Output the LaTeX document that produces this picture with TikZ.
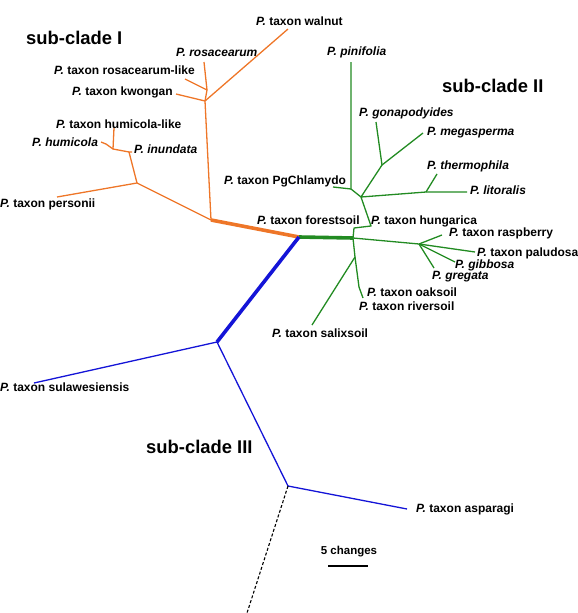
\documentclass[tikz,border=0pt]{standalone}
\usepackage{fontspec}
\setmainfont{Liberation Sans}
\definecolor{orng}{RGB}{238,118,40}
\definecolor{grn}{RGB}{34,139,34}
\definecolor{blu}{RGB}{20,20,215}
\newcommand{\Pg}{\textit{P.}}
\begin{document}
\begin{tikzpicture}[x=1pt,y=-1pt,
  lab/.style={anchor=west,inner sep=0pt,font=\bfseries\fontsize{12}{14}\selectfont},
  clade/.style={anchor=west,inner sep=0pt,font=\bfseries\fontsize{18.4}{22}\selectfont},
  obr/.style={draw=orng,line width=1.3pt,line join=round},
  gbr/.style={draw=grn,line width=1.3pt,line join=round},
  bbr/.style={draw=blu,line width=1.3pt,line join=round},
  stem/.style={line width=3.6pt}]
\useasboundingbox (0,0) rectangle (578,613);
% centre
\coordinate (C) at (299,237);
% orange sub-clade I
\coordinate (O0) at (211,220);
\coordinate (O1) at (205,101);
\coordinate (O2) at (207,90);
\coordinate (O3) at (137,183);
\coordinate (O4) at (129,152);
\coordinate (O5) at (113,149);
\coordinate (O6) at (106,144);
\coordinate (walnut) at (288,29);
\coordinate (kwongan) at (176,94);
\coordinate (rosa) at (204,62);
\coordinate (rosalike) at (185,79);
\coordinate (personii) at (57,197);
\coordinate (inundata) at (132,152);
\coordinate (humlike) at (114,128);
\coordinate (humicola) at (101,142);
\draw[obr,stem] (C) -- (O0);
\draw[obr] (O0) -- (O1) -- (walnut);
\draw[obr] (O1) -- (kwongan);
\draw[obr] (O1) -- (O2) -- (rosa);
\draw[obr] (O2) -- (rosalike);
\draw[obr] (O0) -- (O3) -- (personii);
\draw[obr] (O3) -- (O4) -- (inundata);
\draw[obr] (O4) -- (O5) -- (humlike);
\draw[obr] (O5) -- (O6) -- (humicola);
% green sub-clade II
\coordinate (G0) at (353,238);
\coordinate (G1) at (354,228);
\coordinate (H) at (371,226);
\coordinate (G2) at (361,197);
\coordinate (G4) at (351,189);
\coordinate (G5) at (382,165);
\coordinate (G6) at (426,192);
\coordinate (G7) at (419,244);
\coordinate (G3) at (355,257);
\coordinate (G8) at (359,287);
\coordinate (pinifolia) at (351,62);
\coordinate (pgchl) at (333,187);
\coordinate (gonap) at (376,122);
\coordinate (megas) at (423,133);
\coordinate (litor) at (467,192);
\coordinate (therm) at (437,174);
\coordinate (rasp) at (442,235);
\coordinate (palud) at (475,252);
\coordinate (gibb) at (455,262);
\coordinate (greg) at (434,268);
\coordinate (river) at (363,298);
\coordinate (salix) at (312,325);
\draw[gbr,stem] (C) -- (G0);
\draw[gbr] (G3) -- (G0) -- (G1) -- (H) -- (G2) -- (G4) -- (pinifolia);
\draw[gbr] (G4) -- (pgchl);
\draw[gbr] (G2) -- (G5) -- (gonap);
\draw[gbr] (G5) -- (megas);
\draw[gbr] (G2) -- (G6) -- (litor);
\draw[gbr] (G6) -- (therm);
\draw[gbr] (G0) -- (G7) -- (rasp);
\draw[gbr] (G7) -- (palud);
\draw[gbr] (G7) -- (gibb);
\draw[gbr] (G7) -- (greg);
\draw[gbr] (G3) -- (G8) -- (river);
\draw[gbr] (G3) -- (salix);
% blue sub-clade III
\coordinate (B0) at (217,342);
\coordinate (B1) at (288,486);
\coordinate (sula) at (34,383);
\coordinate (aspar) at (407,509);
\coordinate (out) at (247,613);
\draw[bbr,stem] (C) -- (B0);
\draw[bbr] (sula) -- (B0) -- (B1) -- (aspar);
\draw[black,line width=1.1pt,dash pattern=on 3pt off 2pt] (B1) -- (out);
% scale bar
\coordinate (sb1) at (328,566);
\coordinate (sb2) at (368,566);
\draw[black,line width=2.6pt] (sb1) -- (sb2);
\node[inner sep=0pt,font=\bfseries\fontsize{11.5}{14}\selectfont] (scl) at (349,552) {5 changes};
% clade labels
\node[clade] (c1) at (26,38) {sub-clade I};
\node[clade] (c2) at (442,86) {sub-clade II};
\node[clade] (c3) at (146,447) {sub-clade III};
% tip labels
\node[lab] (l1) at (256,21) {\Pg{} taxon walnut};
\node[lab] (l2) at (176,52) {\textit{P. rosacearum}};
\node[lab] (l3) at (54,70) {\Pg{} taxon rosacearum-like};
\node[lab] (l4) at (72,92) {\Pg{} taxon kwongan};
\node[lab] (l5) at (56,124) {\Pg{} taxon humicola-like};
\node[lab] (l6) at (32,142) {\textit{P. humicola}};
\node[lab] (l7) at (134,149) {\textit{P. inundata}};
\node[lab] (l8) at (0,204) {\Pg{} taxon personii};
\node[lab] (l9) at (224,181) {\Pg{} taxon PgChlamydo};
\node[lab] (l10) at (257,220) {\Pg{} taxon forestsoil};
\node[lab] (l11) at (327,52) {\textit{P. pinifolia}};
\node[lab] (l12) at (359,113) {\textit{P. gonapodyides}};
\node[lab] (l13) at (427,133) {\textit{P. megasperma}};
\node[lab] (l14) at (427,166) {\textit{P. thermophila}};
\node[lab] (l15) at (470,190) {\textit{P. litoralis}};
\node[lab] (l16) at (371,221) {\Pg{} taxon hungarica};
\node[lab] (l17) at (449,233) {\Pg{} taxon raspberry};
\node[lab] (l18) at (477,253) {\Pg{} taxon paludosa};
\node[lab] (l19) at (455,265) {\textit{P. gibbosa}};
\node[lab] (l20) at (432,277) {\textit{P. gregata}};
\node[lab] (l21) at (367,292) {\Pg{} taxon oaksoil};
\node[lab] (l22) at (359,306) {\Pg{} taxon riversoil};
\node[lab] (l23) at (272,333) {\Pg{} taxon salixsoil};
\node[lab] (l24) at (0,387) {\Pg{} taxon sulawesiensis};
\node[lab] (l25) at (416,509) {\Pg{} taxon asparagi};
\end{tikzpicture}
\end{document}
